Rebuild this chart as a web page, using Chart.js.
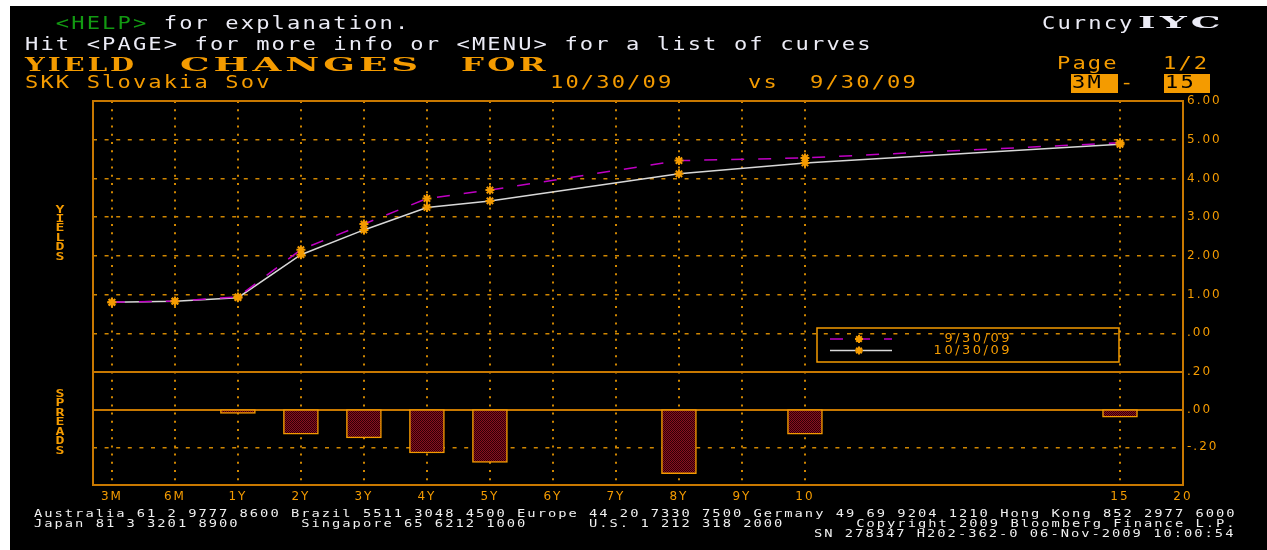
<!DOCTYPE html>
<html>
<head>
<meta charset="utf-8">
<title>IYC - Yield changes for SKK Slovakia Sov</title>
<script src="https://cdn.jsdelivr.net/npm/chart.js@4.4.1/dist/chart.umd.min.js"></script>
<style>
html, body { margin: 0; padding: 0; width: 1267px; height: 550px; overflow: hidden; background: #fff; }
#screen { position: absolute; left: 10px; top: 6px; right: 0; bottom: 0; background: #000; }
#chart { position: absolute; left: 0; top: 0; }
.t { position: absolute; white-space: pre; transform-origin: 0 0; }
.mono17 { font: 17px/1 "DejaVu Sans Mono", monospace; letter-spacing: 1.62px; transform: scaleX(1.3); }
.foot { font: 11px/1 "DejaVu Sans Mono", monospace; letter-spacing: 1.6px; transform: scaleX(1.25); color: #f0f0f0; }
.big { font: bold 19px/1 "DejaVu Serif", serif; letter-spacing: 2px; }
.white { color: #ececf6; }
.amber { color: #f49b00; }
.green { color: #129a12; }
.black { color: #000; }
.box { position: absolute; background: #f49b00; }
.side { position: absolute; left: 50px; width: 20px; text-align: center; font: bold 11px/9.45px "DejaVu Sans Mono", monospace; color: #f49b00; transform: scaleX(1.35); }
</style>
</head>
<body>
<div id="screen"></div>
<canvas id="chart" width="1267" height="550"></canvas>

<div class="t mono17 white" style="left:25px;top:15px">  <span class="green">&lt;HELP&gt;</span> for explanation.</div>
<div class="t mono17 white" style="left:25px;top:35.5px">Hit &lt;PAGE&gt; for more info or &lt;MENU&gt; for a list of curves</div>
<div class="t mono17 white" style="left:1042px;top:15px">Curncy</div>
<div class="t big white" data-w="87" style="left:1138px;top:15px;font-size:16.5px">IYC</div>

<div class="t big amber" data-w="112" style="left:25px;top:54.8px">YIELD</div>
<div class="t big amber" data-w="242" style="left:180px;top:54.8px">CHANGES</div>
<div class="t big amber" data-w="88" style="left:461px;top:54.8px">FOR</div>
<div class="t mono17 amber" style="left:1057px;top:55px">Page</div>
<div class="t mono17 amber" style="left:1163px;top:55px">1/2</div>

<div class="t mono17 amber" style="left:25px;top:74.3px">SKK Slovakia Sov</div>
<div class="t mono17 amber" style="left:550px;top:74.3px">10/30/09</div>
<div class="t mono17 amber" style="left:748px;top:74.3px">vs</div>
<div class="t mono17 amber" style="left:810px;top:74.3px">9/30/09</div>
<div class="box" style="left:1071px;top:74px;width:47px;height:19px"></div>
<div class="t mono17 black" style="left:1072px;top:74.3px">3M</div>
<div class="t mono17 amber" style="left:1120px;top:74.3px">-</div>
<div class="box" style="left:1164px;top:74px;width:46px;height:19px"></div>
<div class="t mono17 black" style="left:1165px;top:74.3px">15</div>

<div class="side" style="top:204.5px">Y<br>I<br>E<br>L<br>D<br>S</div>
<div class="side" style="top:388.8px">S<br>P<br>R<br>E<br>A<br>D<br>S</div>

<div class="t foot" style="left:33.5px;top:508px">Australia 61 2 9777 8600 Brazil 5511 3048 4500 Europe 44 20 7330 7500 Germany 49 69 9204 1210 Hong Kong 852 2977 6000</div>
<div class="t foot" style="left:33.5px;top:518px">Japan 81 3 3201 8900      Singapore 65 6212 1000      U.S. 1 212 318 2000       Copyright 2009 Bloomberg Finance L.P.</div>
<div class="t foot" style="left:814px;top:528px">SN 278347 H202-362-0 06-Nov-2009 10:00:54</div>

<script>
// curve points, by tenor
const tenors = ["3M", "6M", "1Y", "2Y", "3Y", "4Y", "5Y", "8Y", "10", "15"];
const yields0930 = [0.80, 0.83, 0.94, 2.16, 2.82, 3.48, 3.70, 4.46, 4.53, 4.92];
const yields1030 = [0.80, 0.83, 0.92, 2.03, 2.67, 3.25, 3.42, 4.12, 4.40, 4.88];
const spreads = [0, 0, -0.02, -0.13, -0.15, -0.23, -0.28, -0.34, -0.13, -0.04];
const seriesLabels = ["9/30/09", "10/30/09"];

// x axis slots, blanks are unlabelled slots
const axisLabels = ["3M", "6M", "1Y", "2Y", "3Y", "4Y", "5Y", "6Y", "7Y", "8Y", "9Y", "10", "", "", "", "", "15", "20"];

const AMBER = "#f49b00";
const GRID = "#d08600";
const FRAME = "#c87800";
const TICK_FONT = { family: "DejaVu Sans", size: 12 };

// stretch the serif titles to their width
document.querySelectorAll("[data-w]").forEach((el) => {
	const w = el.getBoundingClientRect().width;
	el.style.transform = "scaleX(" + el.dataset.w / w + ")";
});

const toPoints = (vals) => vals.map((v, i) => ({ x: axisLabels.indexOf(tenors[i]), y: v }));

const fmt = (v) => {
	if (Math.abs(v) < 1e-9) return ".00";
	return v.toFixed(2).replace(/^(-?)0\./, "$1.");
};

// dithered dark red for the spread bars
const dot = document.createElement("canvas");
dot.width = 2;
dot.height = 2;
const dc = dot.getContext("2d");
dc.fillStyle = "#8a1020";
dc.fillRect(0, 0, 2, 2);
dc.fillStyle = "#300006";
dc.fillRect(0, 0, 1, 1);
dc.fillRect(1, 1, 1, 1);
const barFill = dc.createPattern(dot, "repeat");

const screenFrame = {
	id: "screenFrame",
	beforeDraw(chart) {
		chart.ctx.letterSpacing = "2px";
	},
	beforeDatasetsDraw(chart) {
		const { ctx, chartArea: a, scales } = chart;
		ctx.save();
		ctx.strokeStyle = FRAME;
		ctx.lineWidth = 2;
		ctx.strokeRect(a.left, a.top, a.right - a.left, a.bottom - a.top);
		ctx.beginPath();
		ctx.moveTo(a.left, scales.y2.top);
		ctx.lineTo(a.right, scales.y2.top);
		ctx.stroke();
		ctx.restore();
	},
	afterDatasetsDraw(chart) {
		const { ctx, chartArea: a } = chart;
		const left = a.left + 724;
		const top = a.top + 227;
		ctx.save();
		ctx.strokeStyle = AMBER;
		ctx.lineWidth = 1.5;
		ctx.strokeRect(left, top, 302, 34);
		chart.data.datasets
			.filter((ds) => ds.type === "line")
			.forEach((ds, i) => {
				const y = top + 11 + i * 11.5;
				ctx.strokeStyle = ds.borderColor;
				ctx.lineWidth = ds.borderWidth;
				ctx.setLineDash(ds.borderDash || []);
				ctx.beginPath();
				ctx.moveTo(left + 13, y);
				ctx.lineTo(left + 75, y);
				ctx.stroke();
				ctx.setLineDash([]);
				// little asterisk marker
				ctx.strokeStyle = AMBER;
				ctx.lineWidth = 2;
				ctx.beginPath();
				for (let k = 0; k < 4; k++) {
					const ang = (k * Math.PI) / 4;
					ctx.moveTo(left + 42 - 4 * Math.cos(ang), y - 4 * Math.sin(ang));
					ctx.lineTo(left + 42 + 4 * Math.cos(ang), y + 4 * Math.sin(ang));
				}
				ctx.stroke();
				ctx.letterSpacing = "2.5px";
				ctx.fillStyle = AMBER;
				ctx.font = "13px 'DejaVu Sans'";
				ctx.textAlign = "right";
				ctx.textBaseline = "middle";
				ctx.fillText(ds.label, left + 195, y);
			});
		ctx.restore();
	},
};

const curveStyle = {
	type: "line",
	yAxisID: "y",
	borderWidth: 1.5,
	tension: 0,
	fill: false,
	pointStyle: "star",
	pointRadius: 4.5,
	pointBorderWidth: 2,
	pointBorderColor: AMBER,
	pointBackgroundColor: AMBER,
};

new Chart(document.getElementById("chart"), {
	type: "bar",
	data: {
		datasets: [
			{
				...curveStyle,
				label: seriesLabels[0],
				data: toPoints(yields0930),
				borderColor: "#c000c4",
				borderDash: [13, 14],
			},
			{
				...curveStyle,
				label: seriesLabels[1],
				data: toPoints(yields1030),
				borderColor: "#d8d8d8",
			},
			{
				type: "bar",
				label: "Spread",
				data: toPoints(spreads),
				yAxisID: "y2",
				backgroundColor: barFill,
				borderColor: AMBER,
				borderWidth: 1.5,
				borderSkipped: false,
				barThickness: 35,
			},
		],
	},
	options: {
		responsive: false,
		animation: false,
		devicePixelRatio: 1,
		events: [],
		layout: { padding: { left: 93, top: 101, right: 40, bottom: 41 } },
		plugins: {
			legend: { display: false },
			tooltip: { enabled: false },
		},
		scales: {
			x: {
				type: "linear",
				min: -0.3,
				max: 17,
				offset: false,
				grid: {
					offset: false,
					drawTicks: false,
					lineWidth: 2,
					color: (c) => (c.tick && c.tick.value < axisLabels.length - 1 ? GRID : "transparent"),
				},
				border: { display: false, dash: [2, 6.2] },
				afterBuildTicks: (s) => {
					s.ticks = axisLabels.map((l, i) => ({ value: i })).filter((t) => axisLabels[t.value] !== "");
				},
				afterFit: (s) => {
					s.height = 24;
				},
				ticks: {
					autoSkip: false,
					maxRotation: 0,
					padding: 5,
					color: AMBER,
					font: TICK_FONT,
					callback: (v) => axisLabels[v],
				},
			},
			y: {
				position: "right",
				stack: "panels",
				stackWeight: 271,
				min: -1,
				max: 6,
				grid: {
					drawTicks: false,
					lineWidth: 1.5,
					color: (c) => (c.tick && c.tick.value > -1 && c.tick.value < 6 ? GRID : "transparent"),
				},
				border: { display: false, dash: [4, 7.6] },
				afterFit: (s) => {
					s.width = 44;
				},
				ticks: {
					stepSize: 1,
					autoSkip: false,
					padding: 4,
					color: AMBER,
					font: TICK_FONT,
					callback: (v) => (v <= -1 ? "" : fmt(v)),
				},
			},
			y2: {
				position: "right",
				stack: "panels",
				stackWeight: 113,
				min: -0.4,
				max: 0.2,
				grid: {
					drawTicks: false,
					lineWidth: (c) => (c.tick && Math.abs(c.tick.value) < 1e-6 ? 2 : 1.5),
					color: (c) => {
						if (!c.tick) return "transparent";
						const v = c.tick.value;
						if (Math.abs(v) < 1e-6) return FRAME;
						return v > -0.3 && v < 0.1 ? GRID : "transparent";
					},
				},
				border: {
					display: false,
					dash: (c) => (c.tick && Math.abs(c.tick.value) < 1e-6 ? [] : [4, 7.6]),
				},
				afterFit: (s) => {
					s.width = 44;
				},
				ticks: {
					stepSize: 0.2,
					autoSkip: false,
					padding: 4,
					color: AMBER,
					font: TICK_FONT,
					callback: (v) => (v < -0.3 ? "" : fmt(v)),
				},
			},
		},
	},
	plugins: [screenFrame],
});
</script>
</body>
</html>
